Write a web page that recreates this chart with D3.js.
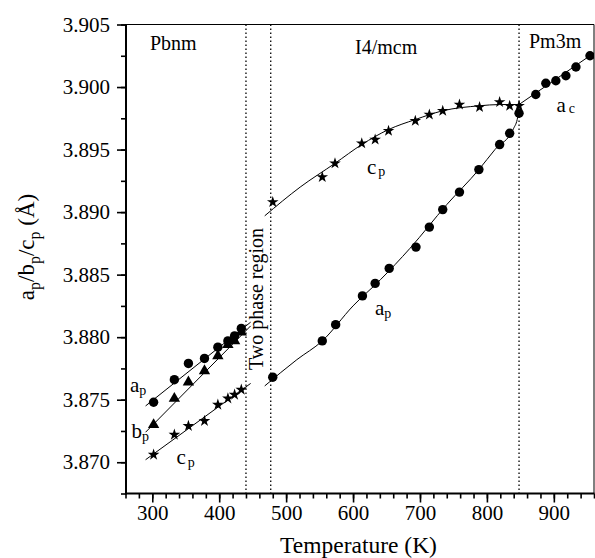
<!DOCTYPE html>
<html>
<head>
<meta charset="utf-8">
<script src="https://cdn.jsdelivr.net/npm/d3@7"></script>
<style>
  html, body { margin: 0; padding: 0; background: #fff; }
  svg { display: block; }
</style>
</head>
<body>
<svg id="chart" width="595" height="558"></svg>
<script>
// ---------- data ----------
// Pbnm phase (orthorhombic)
const pbnmT = [302, 333, 354, 378, 398, 413, 423, 433];
const pbnmA = [3.8748, 3.8766, 3.8779, 3.8783, 3.8792, 3.8797, 3.8801, 3.8807];
const pbnmB = [3.8730, 3.8751, 3.8764, 3.8773, 3.8785, 3.8794, 3.8797, 3.8804];
const pbnmC = [3.8706, 3.8722, 3.8729, 3.8733, 3.8746, 3.8751, 3.8754, 3.8758];
// I4/mcm phase (tetragonal)
const i4cT = [480, 554, 573, 613, 633, 653, 693, 714, 734, 759, 789, 819, 834, 848];
const i4cV = [3.8908, 3.8928, 3.8939, 3.8955, 3.8958, 3.8965, 3.8973, 3.8978, 3.8981, 3.8986, 3.8984, 3.8988, 3.8985, 3.8985];
const i4aT = [480, 554, 574, 614, 633, 654, 694, 714, 734, 759, 788, 819, 834, 848];
const i4aV = [3.8768, 3.8797, 3.8810, 3.8833, 3.8843, 3.8855, 3.8872, 3.8888, 3.8902, 3.8916, 3.8934, 3.8954, 3.8963, 3.8979];
// Pm3m phase (cubic)
const cubT = [873, 888, 903, 918, 933, 954];
const cubV = [3.8994, 3.9003, 3.9005, 3.9009, 3.9016, 3.9025];

// fitted guide curves
const pbnmFitT = [290, 447];
const pbnmFitA = [3.8745, 3.8812];
const pbnmFitB = [3.8724, 3.8809];
const pbnmFitC = [3.8702, 3.8763];
const i4FitCT = [468, 521, 573, 613, 653, 693, 734, 789, 819, 848];
const i4FitCV = [3.8897, 3.8920, 3.8939, 3.8954, 3.8966, 3.8974, 3.8981, 3.8985, 3.8986, 3.8986];
const i4FitAT = [468, 516, 554, 600, 641, 685, 740, 788, 812, 840, 846, 848];
const i4FitAV = [3.8761, 3.8782, 3.8797, 3.8825, 3.8846, 3.8871, 3.8906, 3.8934, 3.8950, 3.8967, 3.8976, 3.8986];
const cubFitT = [848, 962];
const cubFitV = [3.8986, 3.9028];

// phase boundaries (K)
const boundaries = [440, 477, 848];

// axes
const xMajor = [300, 400, 500, 600, 700, 800, 900];
const xTickLabels = ["300", "400", "500", "600", "700", "800", "900"];
const xMinor = d3.range(260, 961, 20);
const yMajor = [3.870, 3.875, 3.880, 3.885, 3.890, 3.895, 3.900, 3.905];
const yTickLabels = ["3.870", "3.875", "3.880", "3.885", "3.890", "3.895", "3.900", "3.905"];
const yMinor = d3.range(0, 16).map(i => 3.8675 + i * 0.0025);

// ---------- layout ----------
const FONT = "'Liberation Serif', 'Times New Roman', Times, 'DejaVu Serif', serif";
const L = 126, R = 594, T = 24.5, B = 493.5;
const svg = d3.select("#chart").attr("font-family", FONT);
const x = d3.scaleLinear().domain([260, 960]).range([L - 0.5, R]);
const y = d3.scaleLinear().domain([3.8675, 3.905]).range([B, T]);

svg.append("defs").append("clipPath").attr("id", "clip")
  .append("rect").attr("x", L).attr("y", T - 6).attr("width", R - L).attr("height", B - T + 6);

// frame (top + right thin)
svg.append("path").attr("d", `M${L},${T}H${R}V${B}`)
  .attr("fill", "none").attr("stroke", "#000").attr("stroke-width", 1);

// x axis
const xg = svg.append("g").attr("transform", `translate(0,${B})`);
xg.append("g").call(d3.axisBottom(x).tickValues(xMinor).tickSize(5).tickSizeOuter(0).tickFormat(""))
  .call(g => g.select(".domain").remove());
const xMaj = xg.append("g").call(d3.axisBottom(x).tickValues(xMajor).tickSize(9).tickSizeOuter(0)
  .tickPadding(3).tickFormat((d, i) => xTickLabels[i]));
xMaj.select(".domain").remove();
xg.selectAll("g").attr("font-family", FONT);
xg.selectAll("line").attr("stroke-width", 1.6);
xMaj.selectAll("text").attr("font-size", 21).style("font-family", FONT).attr("fill", "#000");
xg.append("line").attr("x1", L - 1).attr("x2", R + 0.5).attr("y1", 0).attr("y2", 0)
  .attr("stroke", "#000").attr("stroke-width", 2);

// y axis
const yg = svg.append("g").attr("transform", `translate(${L},0)`);
yg.append("g").call(d3.axisLeft(y).tickValues(yMinor).tickSize(5).tickSizeOuter(0).tickFormat(""))
  .call(g => g.select(".domain").remove());
const yMaj = yg.append("g").call(d3.axisLeft(y).tickValues(yMajor).tickSize(9).tickSizeOuter(0)
  .tickPadding(7).tickFormat((d, i) => yTickLabels[i]));
yMaj.select(".domain").remove();
yg.selectAll("g").attr("font-family", FONT);
yg.selectAll("line").attr("stroke-width", 1.6);
yMaj.selectAll("text").attr("font-size", 21).style("font-family", FONT).attr("fill", "#000");
yg.append("line").attr("x1", 0).attr("x2", 0).attr("y1", T - 0.5).attr("y2", B + 1)
  .attr("stroke", "#000").attr("stroke-width", 2);

// phase boundaries (dotted)
svg.append("g").selectAll("line").data(boundaries).join("line")
  .attr("x1", d => x(d)).attr("x2", d => x(d))
  .attr("y1", T).attr("y2", B)
  .attr("stroke", "#000").attr("stroke-width", 1.3).attr("stroke-dasharray", "1.5,2.5");

// fitted curves
const plot = svg.append("g").attr("clip-path", "url(#clip)");
const straight = d3.line().x(d => x(d[0])).y(d => y(d[1]));
const smooth = d3.line().x(d => x(d[0])).y(d => y(d[1])).curve(d3.curveMonotoneX);
function fit(Ts, Vs, gen) {
  plot.append("path").datum(Ts.map((t, i) => [t, Vs[i]]))
    .attr("d", gen).attr("fill", "none").attr("stroke", "#000").attr("stroke-width", 1);
}
fit(pbnmFitT, pbnmFitA, straight);
fit(pbnmFitT, pbnmFitB, straight);
fit(pbnmFitT, pbnmFitC, straight);
fit(i4FitCT, i4FitCV, smooth);
fit(i4FitAT, i4FitAV, smooth);
fit(cubFitT, cubFitV, straight);

// markers
const star = d3.symbol().type(d3.symbolStar).size(42);
const tri = d3.symbol().type(d3.symbolTriangle).size(56);
function circles(Ts, Vs) {
  plot.append("g").selectAll("circle").data(Ts.map((t, i) => [t, Vs[i]])).join("circle")
    .attr("cx", d => x(d[0])).attr("cy", d => y(d[1])).attr("r", 4.7).attr("fill", "#000");
}
function symbols(Ts, Vs, gen) {
  plot.append("g").selectAll("path").data(Ts.map((t, i) => [t, Vs[i]])).join("path")
    .attr("transform", d => `translate(${x(d[0])},${y(d[1])})`)
    .attr("d", gen).attr("fill", "#000");
}
circles(pbnmT, pbnmA);
symbols(pbnmT, pbnmB, tri);
symbols(pbnmT, pbnmC, star);
symbols(i4cT, i4cV, star);
circles(i4aT, i4aV);
circles(cubT, cubV);

// ---------- text ----------
function txt(sel) { return sel.style("font-family", FONT).attr("fill", "#000"); }
function label(xp, yp, main, sub, size, subSize, dy, gap) {
  const t = txt(svg.append("text")).attr("x", xp).attr("y", yp).attr("font-size", size);
  t.append("tspan").text(main);
  t.append("tspan").attr("dx", gap || 0).attr("dy", dy).attr("font-size", subSize).text(sub);
}
txt(svg.append("text")).attr("x", 150).attr("y", 50).attr("font-size", 20).text("Pbnm");
txt(svg.append("text")).attr("x", 355).attr("y", 54).attr("font-size", 20).text("I4/mcm");
txt(svg.append("text")).attr("x", 529).attr("y", 48).attr("font-size", 20).text("Pm3m");

label(130, 392, "a", "p", 21, 14, 2.5);
label(131.5, 437.5, "b", "p", 21, 14, 3);
label(176.5, 463.5, "c", "p", 21, 14, 3, 2);
label(367, 173.5, "c", "p", 21, 14, 2, 2);
label(375, 315, "a", "p", 21, 14, 3);
label(556.5, 111.5, "a", "c", 21, 14, 1.5, 3);

txt(svg.append("text")).attr("transform", "translate(263,299) rotate(-90)")
  .attr("text-anchor", "middle").attr("font-size", 20).text("Two phase region");

txt(svg.append("text")).attr("x", 358.5).attr("y", 553).attr("text-anchor", "middle")
  .attr("font-size", 23.5).text("Temperature (K)");

const yl = txt(svg.append("text")).attr("transform", "translate(33.5,247) rotate(-90)")
  .attr("text-anchor", "middle").attr("font-size", 23);
yl.append("tspan").text("a");
yl.append("tspan").attr("dy", 6).attr("font-size", 16).text("p");
yl.append("tspan").attr("dy", -6).text("/b");
yl.append("tspan").attr("dy", 6).attr("font-size", 16).text("p");
yl.append("tspan").attr("dy", -6).text("/c");
yl.append("tspan").attr("dy", 6).attr("font-size", 16).text("p");
yl.append("tspan").attr("dy", -6).text(" (Å)");
</script>
</body>
</html>
